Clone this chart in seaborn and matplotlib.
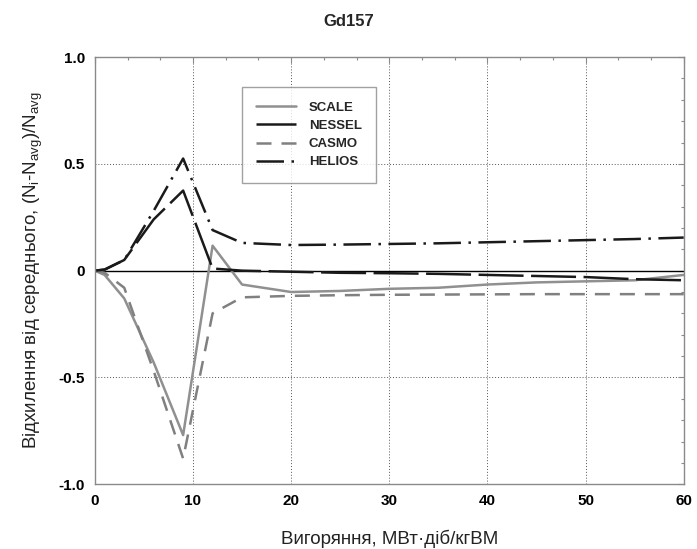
import numpy as np
import pandas as pd
import matplotlib
matplotlib.use("Agg")
import matplotlib.pyplot as plt
from matplotlib.ticker import MultipleLocator, FuncFormatter
import seaborn as sns

# Burnup points, MW·d/kgHM
burnup = [0, 1, 3, 6, 9, 12, 15, 20, 25, 30, 35, 40, 45, 50, 55, 60]

# Relative deviation of Gd157 concentration from the code average
scale = [0.0, -0.02, -0.13, -0.43, -0.77, 0.117, -0.065, -0.10, -0.095, -0.085,
         -0.08, -0.065, -0.055, -0.05, -0.045, -0.02]
nessel = [0.0, 0.005, 0.05, 0.24, 0.375, 0.01, 0.0, -0.005, -0.01, -0.012,
          -0.015, -0.02, -0.025, -0.03, -0.04, -0.045]
casmo = [0.0, -0.01, -0.08, -0.47, -0.88, -0.20, -0.125, -0.118, -0.115, -0.113,
         -0.112, -0.111, -0.11, -0.11, -0.11, -0.11]
helios = [0.0, 0.005, 0.05, 0.28, 0.525, 0.19, 0.13, 0.12, 0.122, 0.125,
          0.128, 0.133, 0.138, 0.143, 0.148, 0.155]

codes = ["SCALE", "NESSEL", "CASMO", "HELIOS"]
series = {"SCALE": scale, "NESSEL": nessel, "CASMO": casmo, "HELIOS": helios}

df = pd.DataFrame({
    "burnup": burnup * len(codes),
    "dev": sum((series[c] for c in codes), []),
    "code": sum(([c] * len(burnup) for c in codes), []),
})

sns.set_style("white")
plt.rcParams["font.family"] = ["Liberation Sans", "DejaVu Sans"]
plt.rcParams["mathtext.default"] = "regular"

fig = plt.figure(figsize=(6.97, 5.49), dpi=100)
ax = fig.add_axes([0.136, 0.118, 0.845, 0.778])

palette = {"SCALE": "#909090", "NESSEL": "#1a1a1a", "CASMO": "#808080", "HELIOS": "#1a1a1a"}
dashes = {"SCALE": "", "NESSEL": (18, 3), "CASMO": (6, 4), "HELIOS": (11, 3, 1, 3)}

sns.lineplot(data=df, x="burnup", y="dev", hue="code", style="code",
             hue_order=codes, style_order=codes, palette=palette, dashes=dashes,
             linewidth=1.8, ax=ax, legend=True, sort=False)

ax.axhline(0, color="black", linewidth=1.0, zorder=1.5)

ax.set_xlim(0, 60)
ax.set_ylim(-1.0, 1.0)
ax.xaxis.set_major_locator(MultipleLocator(10))
ax.xaxis.set_minor_locator(MultipleLocator(10 / 3))
ax.yaxis.set_major_locator(MultipleLocator(0.5))
ax.yaxis.set_minor_locator(MultipleLocator(0.1))


def yfmt(v, pos):
    if abs(v) < 1e-9:
        return "0"
    return f"{v:.1f}"


ax.yaxis.set_major_formatter(FuncFormatter(yfmt))
ax.xaxis.set_major_formatter(FuncFormatter(lambda v, p: f"{v:.0f}"))

ax.grid(True, which="major", linestyle=(0, (1, 2)), color="#555555", linewidth=0.7)
for side in ["top", "right", "bottom", "left"]:
    ax.spines[side].set_color("#8a8a8a")
    ax.spines[side].set_linewidth(1.0)
ax.tick_params(which="both", direction="in", top=True, right=True,
               colors="#8a8a8a", labelcolor="black")
ax.tick_params(which="major", length=4, width=0.8)
ax.tick_params(which="minor", length=2.5, width=0.8)
for lbl in ax.get_xticklabels() + ax.get_yticklabels():
    lbl.set_fontweight("bold")
    lbl.set_fontsize(11)
ax.tick_params(axis="x", pad=7)
ax.tick_params(axis="y", pad=7)

ax.set_xlabel("Вигоряння, МВт·діб/кгВМ", fontsize=13.5, color="#222222", labelpad=16)
ax.set_ylabel("Відхилення від середнього, (N$_i$-N$_{avg}$)/N$_{avg}$",
              fontsize=13.5, color="#222222", labelpad=10)

fig.suptitle("Gd157", fontsize=12, fontweight="bold", y=0.975)

leg = ax.legend(title=None, loc="upper left", bbox_to_anchor=(0.238, 0.945),
                frameon=True, fancybox=False, handlelength=3.0,
                borderpad=1.1, labelspacing=0.45, handletextpad=1.0,
                prop={"weight": "bold", "size": 9.5})
leg.get_frame().set_edgecolor("#8a8a8a")
leg.get_frame().set_linewidth(1.0)

fig.savefig("out.png", dpi=100)
